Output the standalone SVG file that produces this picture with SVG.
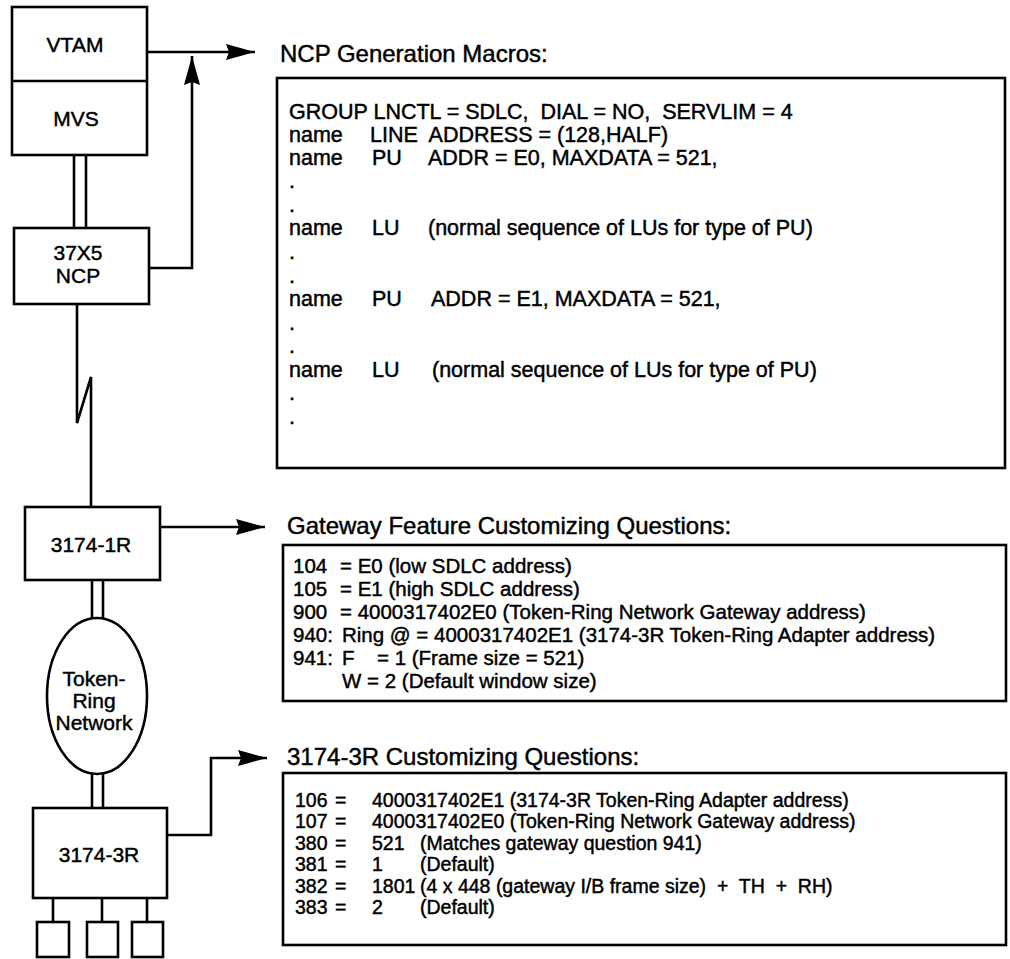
<svg xmlns="http://www.w3.org/2000/svg" width="1010" height="959" viewBox="0 0 1010 959">
<style>
.ln{fill:none;stroke:#000;stroke-width:2.6}
.bx{fill:#fff;stroke:#000;stroke-width:2.6}
text{font-family:"Liberation Sans",Arial,Helvetica,sans-serif;fill:#000;stroke:#000;stroke-width:0.45;white-space:pre}
.lab{font-size:21px;text-anchor:middle}
.hd{font-size:24px}
.ncp{font-size:21.5px}
.gw{font-size:20.5px}
.r3{font-size:19.5px}
</style>
<defs>
<marker id="ah" markerWidth="30" markerHeight="18" refX="29" refY="8" orient="auto" markerUnits="userSpaceOnUse">
<path d="M0,0 L29,8 L0,16 L3,8 Z" fill="#000"/>
</marker>
</defs>
<rect width="1010" height="959" fill="#fff"/>

<g id="connectors">
<line class="ln" x1="147" y1="52" x2="255" y2="52" marker-end="url(#ah)"/>
<polyline class="ln" points="149,268 192,268 192,56" marker-end="url(#ah)"/>
<line class="ln" x1="74" y1="155" x2="74" y2="228"/>
<line class="ln" x1="86" y1="155" x2="86" y2="228"/>
<polyline class="ln" points="77,304 77,423 91,377 91,507"/>
<line class="ln" x1="160" y1="527" x2="265" y2="527" marker-end="url(#ah)"/>
<line class="ln" x1="92" y1="580" x2="92" y2="619"/>
<line class="ln" x1="103" y1="580" x2="103" y2="619"/>
<line class="ln" x1="92" y1="773" x2="92" y2="808"/>
<line class="ln" x1="103" y1="773" x2="103" y2="808"/>
<polyline class="ln" points="167,835 211,835 211,758 267,758" marker-end="url(#ah)"/>
<line class="ln" x1="53" y1="898" x2="53" y2="922"/>
<line class="ln" x1="102" y1="898" x2="102" y2="922"/>
<line class="ln" x1="147" y1="898" x2="147" y2="922"/>
</g>

<g id="vtam-mvs">
<rect class="bx" x="12" y="7" width="135" height="148"/>
<line class="ln" x1="12" y1="81" x2="147" y2="81"/>
<text class="lab" x="75" y="52">VTAM</text>
<text class="lab" x="76" y="126">MVS</text>
</g>

<g id="ncp-37x5">
<rect class="bx" x="14" y="228" width="135" height="76"/>
<text class="lab" x="78" y="260">37X5</text>
<text class="lab" x="78" y="283">NCP</text>
</g>

<g id="c3174-1r">
<rect class="bx" x="25" y="507" width="135" height="73"/>
<text class="lab" x="91" y="552">3174-1R</text>
</g>

<g id="token-ring">
<ellipse class="bx" cx="97" cy="696" rx="50" ry="78"/>
<text class="lab" x="94" y="686">Token-</text>
<text class="lab" x="94" y="708">Ring</text>
<text class="lab" x="94" y="730">Network</text>
</g>

<g id="c3174-3r">
<rect class="bx" x="33" y="808" width="134" height="90"/>
<text class="lab" x="99" y="862">3174-3R</text>
</g>

<g id="terminals">
<rect class="bx" x="37" y="922" width="32" height="35"/>
<rect class="bx" x="87" y="922" width="31" height="35"/>
<rect class="bx" x="132" y="922" width="31" height="35"/>
</g>

<g id="ncp-macros">
<text class="hd" x="280" y="62">NCP Generation Macros:</text>
<rect class="bx" x="277" y="78" width="728" height="390"/>
<text class="ncp" x="289" y="119">GROUP LNCTL = SDLC,  DIAL = NO,  SERVLIM = 4</text>
<text class="ncp" y="142"><tspan x="289">name</tspan><tspan x="370">LINE  ADDRESS = (128,HALF)</tspan></text>
<text class="ncp" y="165"><tspan x="289">name</tspan><tspan x="372">PU</tspan><tspan x="428">ADDR = E0, MAXDATA = 521,</tspan></text>
<text class="ncp" x="289" y="188">.</text>
<text class="ncp" x="289" y="212">.</text>
<text class="ncp" y="235"><tspan x="289">name</tspan><tspan x="372">LU</tspan><tspan x="428">(normal sequence of LUs for type of PU)</tspan></text>
<text class="ncp" x="289" y="259">.</text>
<text class="ncp" x="289" y="283">.</text>
<text class="ncp" y="306"><tspan x="289">name</tspan><tspan x="372">PU</tspan><tspan x="431">ADDR = E1, MAXDATA = 521,</tspan></text>
<text class="ncp" x="289" y="330">.</text>
<text class="ncp" x="289" y="353">.</text>
<text class="ncp" y="377"><tspan x="289">name</tspan><tspan x="372">LU</tspan><tspan x="432">(normal sequence of LUs for type of PU)</tspan></text>
<text class="ncp" x="289" y="400">.</text>
<text class="ncp" x="289" y="424">.</text>
</g>

<g id="gateway-questions">
<text class="hd" x="287" y="534">Gateway Feature Customizing Questions:</text>
<rect class="bx" x="283" y="545" width="723" height="156"/>
<text class="gw" y="573"><tspan x="293">104</tspan><tspan x="340">= E0 (low SDLC address)</tspan></text>
<text class="gw" y="596"><tspan x="293">105</tspan><tspan x="340">= E1 (high SDLC address)</tspan></text>
<text class="gw" y="619"><tspan x="293">900</tspan><tspan x="340">= 4000317402E0 (Token-Ring Network Gateway address)</tspan></text>
<text class="gw" y="642"><tspan x="293">940:</tspan><tspan x="342">Ring @ = 4000317402E1 (3174-3R Token-Ring Adapter address)</tspan></text>
<text class="gw" y="665"><tspan x="293">941:</tspan><tspan x="342">F</tspan><tspan x="377">= 1 (Frame size = 521)</tspan></text>
<text class="gw" x="342" y="688">W = 2 (Default window size)</text>
</g>

<g id="c3174-3r-questions">
<text class="hd" x="287" y="765">3174-3R Customizing Questions:</text>
<rect class="bx" x="283" y="773" width="723" height="172"/>
<text class="r3" y="807"><tspan x="295">106</tspan><tspan x="335">=</tspan><tspan x="372">4000317402E1 (3174-3R Token-Ring Adapter address)</tspan></text>
<text class="r3" y="828"><tspan x="295">107</tspan><tspan x="335">=</tspan><tspan x="372">4000317402E0 (Token-Ring Network Gateway address)</tspan></text>
<text class="r3" y="850"><tspan x="295">380</tspan><tspan x="335">=</tspan><tspan x="372">521</tspan><tspan x="420">(Matches gateway question 941)</tspan></text>
<text class="r3" y="871"><tspan x="295">381</tspan><tspan x="335">=</tspan><tspan x="372">1</tspan><tspan x="420">(Default)</tspan></text>
<text class="r3" y="893"><tspan x="295">382</tspan><tspan x="335">=</tspan><tspan x="372">1801</tspan><tspan x="420">(4 x 448 (gateway I/B frame size)  +  TH  +  RH)</tspan></text>
<text class="r3" y="914"><tspan x="295">383</tspan><tspan x="335">=</tspan><tspan x="372">2</tspan><tspan x="420">(Default)</tspan></text>
</g>
</svg>
